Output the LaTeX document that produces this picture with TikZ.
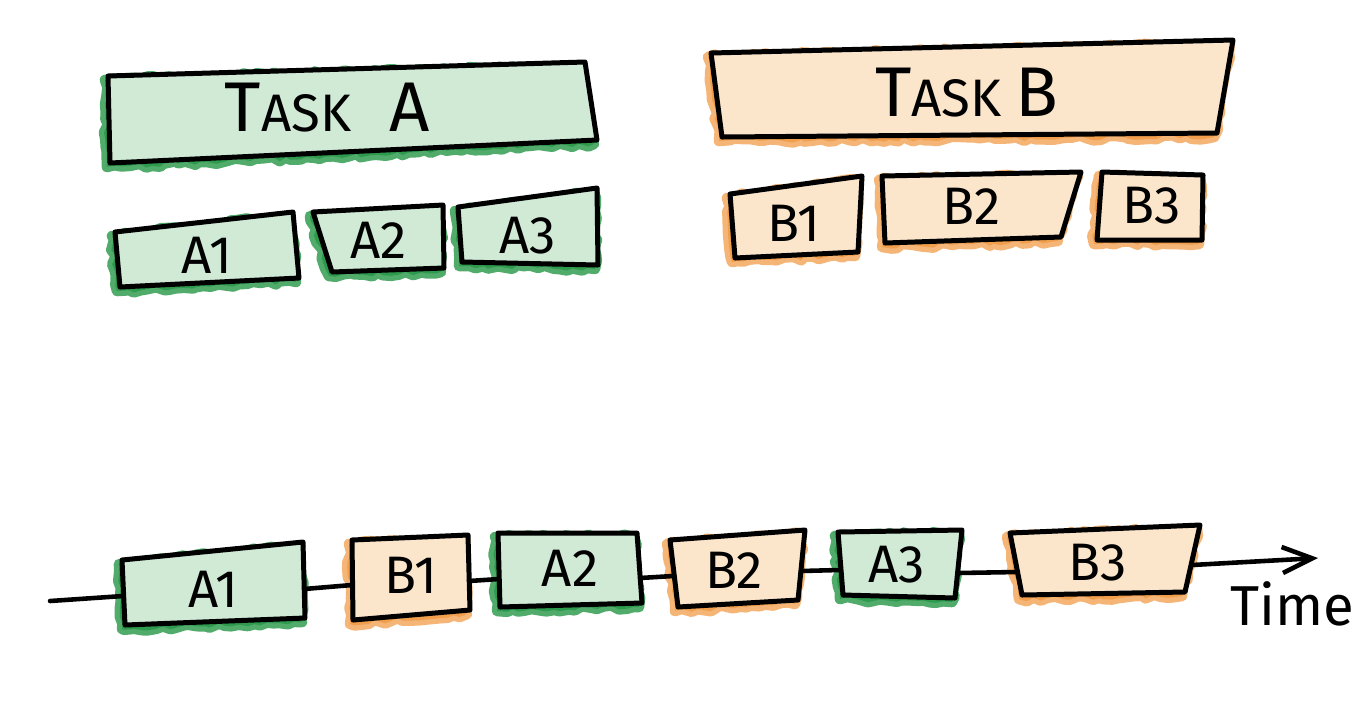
\documentclass[tikz,border=0pt]{standalone}
\usepackage{fontspec}
\setmainfont{Fira Sans}
\usetikzlibrary{arrows.meta,decorations.pathmorphing}
\definecolor{gline}{RGB}{38,150,70}
\definecolor{gfill}{RGB}{208,234,214}
\definecolor{oline}{RGB}{240,150,60}
\definecolor{ofill}{RGB}{251,230,204}
\tikzset{
  ghalo/.style={draw=gline,fill=gline,line width=3pt,line join=round,opacity=.8,
    decorate,decoration={random steps,segment length=2pt,amplitude=.7pt}},
  ohalo/.style={draw=oline,fill=oline,line width=3pt,line join=round,opacity=.7,
    decorate,decoration={random steps,segment length=2pt,amplitude=.7pt}},
  outline/.style={draw=black,line width=1.42pt,line join=round},
  lbl/.style={inner sep=0pt,font=\fontsize{15}{18}\selectfont},
  conn/.style={draw=black,line width=1.3pt,line cap=round},
}
\newcommand{\tbox}[8][]{%
  \begin{scope}[shift={(-3,4)}]\path[#3halo] (#4)--(#5)--(#6)--(#7)--cycle;\end{scope}
  \fill[#3fill] (#4)--(#5)--(#6)--(#7)--cycle;
  \draw[outline] (#4)--(#5)--(#6)--(#7)--cycle;
  \path (#4)--(#6) coordinate[pos=.5] (#2c);
  \node[lbl,#1] (#2) at (#2c) {#8};
}
\newcommand{\tasklbl}[2]{{\fontsize{20}{24}\selectfont T}{\fontsize{15}{18}\selectfont ASK}\hspace{#2}{\fontsize{20}{24}\selectfont #1}}
\begin{document}
\begin{tikzpicture}[x=0.01cm,y=-0.01cm]
\useasboundingbox[fill=white] (0,0) rectangle (1370,708);
% top groups
\tbox[xshift=-0.25cm]{taskA}{g}{108,76}{585,62}{597,140}{110,163}{\tasklbl{A}{11pt}}
\tbox[xshift=0.03cm]{taskB}{o}{711,53}{1233,40}{1217,133}{722,137}{\tasklbl{B}{4pt}}
\tbox{a1}{g}{115,232}{293,212}{299,278}{120,287}{A1}
\tbox{a2}{g}{313,212}{443,205}{444,268}{332,272}{A2}
\tbox{a3}{g}{458,207}{597,188}{598,265}{462,262}{A3}
\tbox{b1}{o}{730,194}{862,176}{858,252}{735,258}{B1}
\tbox{b2}{o}{882,176}{1081,172}{1061,237}{885,243}{B2}
\tbox{b3}{o}{1102,172}{1203,175}{1202,240}{1097,240}{B3}
% timeline boxes
\tbox{ta1}{g}{122,560}{303,542}{305,618}{125,625}{A1}
\tbox{tb1}{o}{352,540}{468,535}{470,610}{353,620}{B1}
\tbox{ta2}{g}{498,533}{637,533}{642,603}{500,607}{A2}
\tbox{tb2}{o}{670,540}{805,530}{798,600}{678,607}{B2}
\tbox{ta3}{g}{838,532}{962,530}{955,598}{843,595}{A3}
\tbox{tb3}{o}{1010,533}{1200,525}{1185,592}{1022,595}{B3}
% connector ends
\coordinate (start) at (50,601);
\coordinate (ta1l) at (123,596);
\coordinate (ta1r) at (304,589);
\coordinate (tb1l) at (352,585);
\coordinate (tb1r) at (469,581);
\coordinate (ta2l) at (499,579);
\coordinate (ta2r) at (640,578);
\coordinate (tb2l) at (673,576);
\coordinate (tb2r) at (801,571);
\coordinate (ta3l) at (839,570);
\coordinate (ta3r) at (958,573);
\coordinate (tb3l) at (1017,572);
\coordinate (tb3r) at (1192,565);
\coordinate (tip) at (1318,558);
\draw[conn] (start) -- (ta1l);
\draw[conn] (ta1r) -- (tb1l);
\draw[conn] (tb1r) -- (ta2l);
\draw[conn] (ta2r) -- (tb2l);
\draw[conn] (tb2r) -- (ta3l);
\draw[conn] (ta3r) -- (tb3l);
\draw[conn,-{Straight Barb[length=0.3cm,width=0.26cm]}] (tb3r) -- (tip);
\node[inner sep=0pt,font=\fontsize{16}{19}\selectfont] (time) at (1292,604) {Time};
\end{tikzpicture}
\end{document}
